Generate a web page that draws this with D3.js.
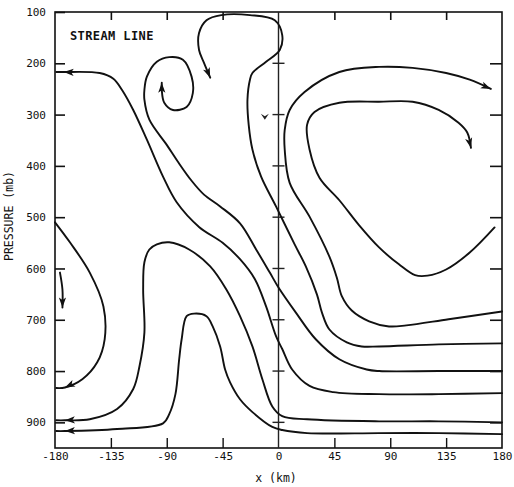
<!DOCTYPE html>
<html>
<head>
<meta charset="utf-8">
<script src="https://cdn.jsdelivr.net/npm/d3@7"></script>
<style>
  html, body { margin: 0; padding: 0; background: #fff; }
  svg { display: block; }
  text { font-family: "DejaVu Sans Mono", "Liberation Mono", monospace; fill: #111; }
</style>
</head>
<body>
<script>
// ---- data (x in km, pressure in mb) ----
const xTicks = [-180, -135, -90, -45, 0, 45, 90, 135, 180];
const yTicks = [100, 200, 300, 400, 500, 600, 700, 800, 900];
const innerTicks = [-135, -90, -45, 45, 90, 135];

const curveA = [[180,843],[129,845],[81,845],[44,841],[25,829],[11,797],[3,757],[-2,732],[-10,674],[-19,621],[-31,582],[-45,550],[-64,519],[-82,471],[-93,421],[-106,349],[-117,291],[-126,252],[-133,230],[-144,219],[-173,217],[-179,217]];
const spiral = [[180,800],[129,800],[81,800],[71,797],[49,777],[30,738],[14,686],[0,637],[-7,608],[-18,563],[-31,512],[-47,479],[-60,456],[-70,429],[-81,392],[-90,359],[-104,310],[-108,271],[-108,252],[-106,226],[-98,197],[-88,188],[-77,193],[-70,226],[-69,258],[-74,285],[-85,291],[-92,277],[-94,252],[-94,238]];
const topLoop = [[180,746],[129,748],[81,752],[67,752],[55,744],[41,719],[35,686],[31,651],[22,596],[13,553],[-2,479],[-14,421],[-21,368],[-24,320],[-25,271],[-23,232],[-21,219],[-10,197],[1,174],[3,145],[-3,116],[-23,106],[-46,106],[-58,116],[-64,141],[-64,174],[-60,199],[-55,228]];
const outerC = [[180,684],[137,699],[103,711],[89,713],[73,703],[59,682],[51,654],[47,618],[41,577],[25,499],[9,433],[5,368],[5,330],[9,291],[21,256],[49,217],[81,207],[108,209],[135,219],[154,232],[171,250]];
const innerC = [[174,520],[154,569],[135,602],[120,614],[110,613],[97,592],[81,559],[65,516],[49,467],[33,423],[25,368],[23,320],[29,295],[49,277],[81,275],[108,275],[129,291],[145,316],[152,335],[155,365]];
const outerHump = [[180,900],[129,898],[81,898],[23,894],[3,888],[-5,869],[-13,816],[-21,752],[-31,693],[-42,641],[-55,596],[-72,563],[-88,549],[-98,553],[-104,563],[-108,588],[-109,641],[-108,725],[-112,791],[-117,835],[-130,874],[-152,894],[-172,896],[-179,896]];
const innerHump = [[180,923],[129,921],[81,921],[23,921],[3,915],[-5,909],[-21,880],[-31,855],[-39,822],[-43,797],[-47,752],[-53,713],[-58,693],[-68,688],[-74,693],[-78,738],[-80,777],[-83,845],[-88,884],[-93,902],[-130,913],[-172,917],[-179,917]];
const leftLoop = [[-180,510],[-168,549],[-152,608],[-141,674],[-140,738],[-146,783],[-158,816],[-172,832],[-179,833]];
const smallArrow = [[-176,608],[-174,641],[-174,676]];

const streamlines = [curveA, spiral, topLoop, outerC, innerC, outerHump, innerHump, leftLoop, smallArrow];
// index of the point where each streamline's arrowhead sits
const arrowIndex = [20, 29, 27, 20, 19, 22, 21, 7, 2];
const strayMark = [-11, 310];

// ---- drawing ----
const W = 514, H = 487;
const svg = d3.select("body").append("svg").attr("width", W).attr("height", H);

const x = d3.scaleLinear().domain([-180, 180]).range([55, 502]);
const y = d3.scaleLinear().domain([100, 950]).range([12, 448]);

// frame
svg.append("rect")
  .attr("x", x(-180)).attr("y", y(100))
  .attr("width", x(180) - x(-180)).attr("height", y(950) - y(100))
  .attr("fill", "none").attr("stroke", "#111").attr("stroke-width", 1.6);

// x = 0 line
svg.append("line")
  .attr("x1", x(0)).attr("x2", x(0)).attr("y1", y(100)).attr("y2", y(950))
  .attr("stroke", "#222").attr("stroke-width", 1.4);
svg.append("g").selectAll("line").data(yTicks.slice(1)).join("line")
  .attr("x1", x(0) - 6).attr("x2", x(0) + 6)
  .attr("y1", d => y(d)).attr("y2", d => y(d))
  .attr("stroke", "#222").attr("stroke-width", 1.4);

// left axis
svg.append("g").attr("transform", `translate(${x(-180)},0)`)
  .call(d3.axisLeft(y).tickValues(yTicks).tickSize(-10).tickPadding(9))
  .call(g => g.select(".domain").remove())
  .call(g => g.selectAll("line").attr("stroke", "#111").attr("stroke-width", 1.6))
  .call(g => g.selectAll("text").attr("font-size", 11).attr("font-family", "DejaVu Sans Mono"));

// right axis
svg.append("g").attr("transform", `translate(${x(180)},0)`)
  .call(d3.axisRight(y).tickValues(yTicks.slice(1)).tickSize(-12).tickFormat(""))
  .call(g => g.select(".domain").remove())
  .call(g => g.selectAll("line").attr("stroke", "#111").attr("stroke-width", 1.6));

// bottom axis
svg.append("g").attr("transform", `translate(0,${y(950)})`)
  .call(d3.axisBottom(x).tickValues(xTicks).tickSize(-10).tickPadding(4)
        .tickFormat(d => d))
  .call(g => g.select(".domain").remove())
  .call(g => g.selectAll("line").attr("stroke", "#111").attr("stroke-width", 1.4)
        .attr("display", d => (innerTicks.includes(d) ? null : "none")))
  .call(g => g.selectAll("text").attr("font-size", 11).attr("font-family", "DejaVu Sans Mono"));

// top axis
svg.append("g").attr("transform", `translate(0,${y(100)})`)
  .call(d3.axisTop(x).tickValues(innerTicks).tickSize(-8).tickFormat(""))
  .call(g => g.select(".domain").remove())
  .call(g => g.selectAll("line").attr("stroke", "#111").attr("stroke-width", 1.6));

// axis titles
svg.append("text").attr("x", 276).attr("y", 482).attr("text-anchor", "middle")
  .attr("font-size", 11.5).text("x (km)");
svg.append("text").attr("transform", "translate(13,216) rotate(-90)")
  .attr("text-anchor", "middle").attr("font-size", 11.5).text("PRESSURE (mb)");
svg.append("text").attr("x", 70).attr("y", 40).attr("font-size", 12)
  .attr("letter-spacing", 0.4).attr("font-weight", "bold").text("STREAM LINE");

// streamlines
const line = d3.line().x(d => x(d[0])).y(d => y(d[1])).curve(d3.curveCatmullRom.alpha(0.5));
svg.append("g").selectAll("path").data(streamlines).join("path")
  .attr("d", line).attr("fill", "none").attr("stroke", "#111")
  .attr("stroke-width", 1.9).attr("stroke-linecap", "round").attr("stroke-linejoin", "round");

// arrowheads
function arrowPath(px, py, ang, len = 10, hw = 3.6) {
  const c = Math.cos(ang), s = Math.sin(ang);
  const bx = px - c * len, by = py - s * len;
  return `M${px},${py}L${bx - s * hw},${by + c * hw}L${bx + c * 2.5},${by + s * 2.5}L${bx + s * hw},${by - c * hw}Z`;
}
svg.append("g").selectAll("path").data(streamlines.map((pts, i) => {
  const k = arrowIndex[i];
  const p1 = pts[k - 1], p2 = pts[k];
  const ang = Math.atan2(y(p2[1]) - y(p1[1]), x(p2[0]) - x(p1[0]));
  return arrowPath(x(p2[0]), y(p2[1]), ang);
})).join("path").attr("d", d => d).attr("fill", "#111");

// stray small arrow mark
svg.append("path").attr("d", arrowPath(x(strayMark[0]), y(strayMark[1]), Math.PI / 2, 6, 4))
  .attr("fill", "#222");
</script>
</body>
</html>
